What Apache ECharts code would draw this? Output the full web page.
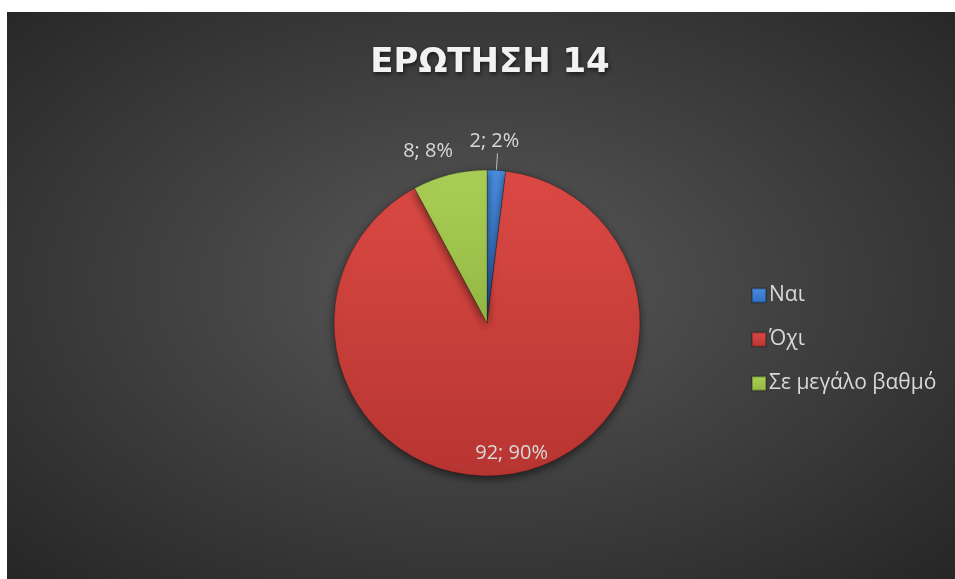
<!DOCTYPE html>
<html>
<head>
<meta charset="utf-8">
<script src="https://cdn.jsdelivr.net/npm/echarts@6/dist/echarts.min.js"></script>
<style>
html,body{margin:0;padding:0;background:#ffffff;width:955px;height:579px;overflow:hidden;}
#chart{position:absolute;left:7px;top:12px;width:948px;height:567px;
background:radial-gradient(ellipse farthest-corner at 50% 48%, #5a5a5a 0%, #444444 40%, #262626 100%);}
</style>
</head>
<body>
<div id="chart"></div>
<script>
const titleText = 'ΕΡΩΤΗΣΗ 14';
const categories = ['Ναι', 'Όχι', 'Σε μεγάλο βαθμό'];
const values = [2, 92, 8];

const palette = [
  ['#4a8ee0', '#2f6cc0'],
  ['#dc4a45', '#b73531'],
  ['#accf56', '#94b843']
];
function grad(c) {
  return new echarts.graphic.LinearGradient(0, 0, 0, 1, [
    {offset: 0, color: c[0]}, {offset: 1, color: c[1]}
  ]);
}

const chart = echarts.init(document.getElementById('chart'), null, {renderer: 'canvas'});
const FONT = '"Open Sans", "Noto Sans", sans-serif';

chart.setOption({
  backgroundColor: 'transparent',
  animation: false,
  title: {
    text: titleText,
    left: 478,
    top: 29,
    textAlign: 'center',
    textStyle: {
      color: '#f2f2f2',
      fontFamily: '"DejaVu Sans", sans-serif',
      fontWeight: 'bold',
      fontSize: 34,
      textShadowColor: 'rgba(0,0,0,0.6)',
      textShadowBlur: 4,
      textShadowOffsetX: 1,
      textShadowOffsetY: 2
    }
  },
  legend: {
    orient: 'vertical',
    left: 739,
    top: 268,
    itemWidth: 14,
    itemHeight: 14,
    itemGap: 23,
    icon: 'rect',
    textStyle: {color: '#d9d9d9', fontSize: 21, fontFamily: FONT, padding: [0, 0, 0, -2]},
    data: categories
  },
  series: [{
    type: 'pie',
    center: [480, 311],
    radius: [0, 153],
    startAngle: 90,
    clockwise: true,
    percentPrecision: 0,
    avoidLabelOverlap: false,
    itemStyle: {
      borderColor: 'rgba(0,0,0,0.25)',
      borderWidth: 1,
      shadowBlur: 10,
      shadowColor: 'rgba(0,0,0,0.55)',
      shadowOffsetY: 3
    },
    label: {
      formatter: '{c}; {d}%',
      color: '#d9d9d9',
      fontSize: 20,
      fontFamily: FONT
    },
    labelLayout: function (p) {
      if (p.dataIndex === 0) return {dx: -33, dy: -12};
      if (p.dataIndex === 1) return {dx: 10, dy: 52};
      if (p.dataIndex === 2) return {dx: 12, dy: -9};
    },
    data: categories.map(function (name, i) {
      const d = {name: name, value: values[i], itemStyle: {color: grad(palette[i])}};
      if (i === 0) {
        d.label = {position: 'outside'};
        d.labelLine = {show: true, length: 17, length2: 0, lineStyle: {color: '#bfbfbf', width: 1}};
      } else if (i === 1) {
        d.label = {position: 'inside'};
      } else {
        d.label = {position: 'outside'};
        d.labelLine = {show: false, length: 15, length2: 0};
      }
      return d;
    })
  }]
});
</script>
</body>
</html>
